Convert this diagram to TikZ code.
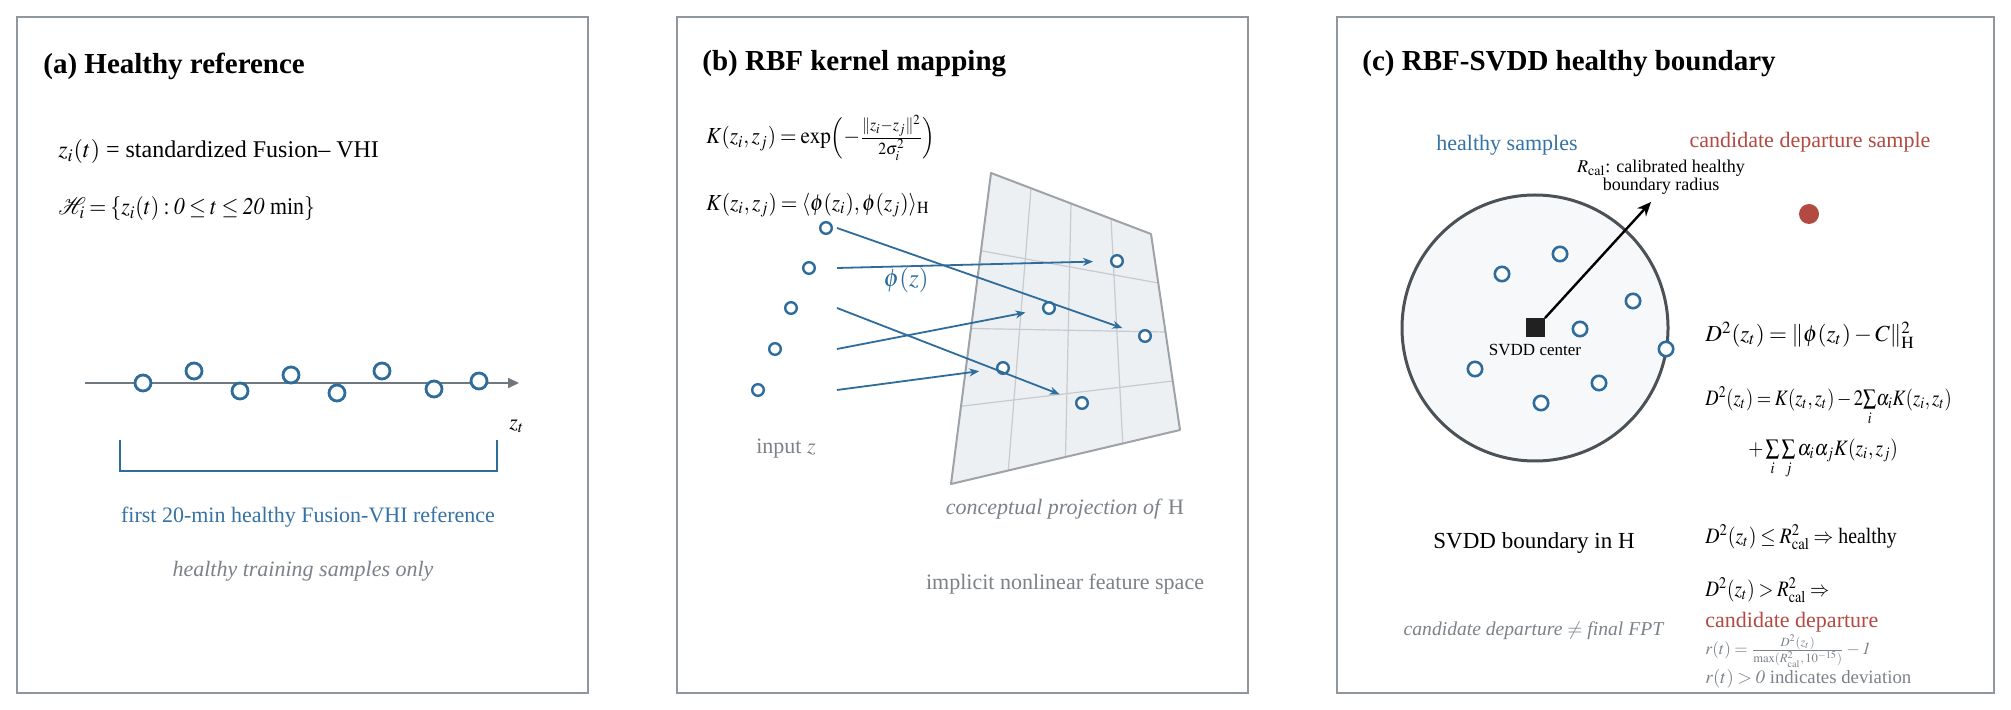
\documentclass[tikz,border=0pt]{standalone}
\usepackage{graphicx}
\usepackage{mathptmx}
\usepackage{fontspec}
\setmainfont{Liberation Serif}
\usetikzlibrary{arrows.meta,calc}
\definecolor{framec}{HTML}{8F979D}
\definecolor{blueC}{HTML}{2E6C9C}
\definecolor{blueT}{HTML}{3572A5}
\definecolor{grayT}{HTML}{7B8289}
\definecolor{redC}{HTML}{B34A41}
\definecolor{axisC}{HTML}{70777E}
\definecolor{surfF}{HTML}{EDF0F3}
\definecolor{surfD}{HTML}{9CA3A9}
\definecolor{gridC}{HTML}{C6CBCF}
\definecolor{bndF}{HTML}{F7F8F9}
\definecolor{bndD}{HTML}{4A5157}
\thinmuskip=2mu
\medmuskip=2.5mu plus 1mu minus 1mu
\thickmuskip=3.5mu plus 2mu
\newcommand{\sqz}[2]{\scalebox{#1}[1]{#2}}
\tikzset{
  frame/.style={draw=framec, line width=1.2pt},
  ttl/.style={anchor=west, font=\fontsize{14.5}{17}\selectfont\bfseries, inner sep=0pt},
  txt/.style={font=\fontsize{11}{13}\selectfont, inner sep=0pt},
  eq/.style={anchor=west, font=\fontsize{12}{14}\selectfont, inner sep=0pt},
  eqb/.style={anchor=west, font=\fontsize{11.5}{14}\selectfont, inner sep=0pt},
  eqc/.style={anchor=west, font=\fontsize{11}{13}\selectfont, inner sep=0pt},
  small/.style={font=\fontsize{8.5}{10}\selectfont, inner sep=0pt, align=center},
  hca/.style={circle, draw=blueC, line width=1.4pt, fill=white, minimum size=8pt, inner sep=0pt},
  hcb/.style={circle, draw=blueC, line width=1.2pt, fill=white, minimum size=5.8pt, inner sep=0pt},
  hcc/.style={circle, draw=blueC, line width=1.3pt, fill=white, minimum size=7.2pt, inner sep=0pt},
  axisline/.style={draw=axisC, line width=1pt, -{Triangle[length=5.5pt,width=5pt]}},
  bracketline/.style={draw=blueC, line width=1pt},
  maparrow/.style={draw=blueC, line width=0.9pt, -{Stealth[length=5pt,width=4pt]}, shorten >=12pt},
  gridline/.style={draw=gridC, line width=0.6pt},
  bnd/.style={circle, fill=bndF, draw=bndD, line width=1.5pt, minimum size=133pt, inner sep=0pt},
  ctrsq/.style={rectangle, fill=black!87, minimum size=9.5pt, inner sep=0pt},
  blkarrow/.style={draw=black, line width=1.2pt, -{Stealth[length=7pt,width=6pt]}},
}
\begin{document}
\begin{tikzpicture}[x=0.5pt,y=-0.5pt]
\useasboundingbox (0,0) rectangle (2011,710);
\fill[white] (0,0) rectangle (2011,710);

% frames
\draw[frame] (17,17) rectangle (588,693);
\draw[frame] (677,17) rectangle (1248,693);
\draw[frame] (1337,17) rectangle (1994,693);

% ---------------- panel (a)
\node[ttl] (ta) at (43,66) {(a) Healthy reference};
\node[eq] (fa1) at (58,152) {$z_i(t)$ = standardized Fusion– VHI};
\node[eq] (fa2) at (58,209) {\sqz{0.91}{$\mathcal{H}_i = \{z_i(t) : \mathit{0} \le t \le \mathit{20}$ min$\}$}};
\coordinate (axs) at (85,383);
\coordinate (axe) at (519,383);
\draw[axisline] (axs) -- (axe);
\node[hca] (a1) at (143,383) {};
\node[hca] (a2) at (194,371) {};
\node[hca] (a3) at (240,391) {};
\node[hca] (a4) at (291,375) {};
\node[hca] (a5) at (337,393) {};
\node[hca] (a6) at (382,371) {};
\node[hca] (a7) at (434,389) {};
\node[hca] (a8) at (479,381) {};
\node[eqc] (zt) at (509,426) {$z_t$};
\coordinate (br1) at (120,440);
\coordinate (br2) at (120,471);
\coordinate (br3) at (497,471);
\coordinate (br4) at (497,440);
\draw[bracketline] (br1) -- (br2) -- (br3) -- (br4);
\node[txt, text=blueT] (ra) at (308,517) {first 20-min healthy Fusion-VHI reference};
\node[txt, text=grayT, font=\fontsize{11}{13}\selectfont\itshape] (rb) at (303,571) {healthy training samples only};

% ---------------- panel (b)
\node[ttl] (tb) at (702,64) {(b) RBF kernel mapping};
\node[eqb] (fb1) at (706,138) {\sqz{0.92}{$K(z_i, z_j) = \exp\!\left(-\frac{\|z_i - z_j\|^2}{2\sigma_i^2}\right)$}};
\node[eqb] (fb2) at (706,205) {\sqz{0.93}{$K(z_i, z_j) = \langle \phi(z_i), \phi(z_j) \rangle_{\mathrm{H}}$}};
% surface
\coordinate (q1) at (991,173);
\coordinate (q2) at (1151,234);
\coordinate (q3) at (1180,430);
\coordinate (q4) at (951,484);
\fill[surfF] (q1) -- (q2) -- (q3) -- (q4) -- cycle;
\foreach \t in {0.25,0.5,0.75}{
  \draw[gridline] ($(q1)!\t!(q2)$) -- ($(q4)!\t!(q3)$);
  \draw[gridline] ($(q1)!\t!(q4)$) -- ($(q2)!\t!(q3)$);
}
\draw[surfD, line width=1pt, line join=round] (q1) -- (q2) -- (q3) -- (q4) -- cycle;
% input points
\node[hcb] (i1) at (826,228) {};
\node[hcb] (i2) at (809,268) {};
\node[hcb] (i3) at (791,308) {};
\node[hcb] (i4) at (775,349) {};
\node[hcb] (i5) at (758,390) {};
% mapped points
\node[hcb] (m1) at (1145,336) {};
\node[hcb] (m2) at (1117,261) {};
\node[hcb] (m3) at (1082,403) {};
\node[hcb] (m4) at (1049,308) {};
\node[hcb] (m5) at (1003,368) {};
\coordinate (s1) at (837,228);
\coordinate (s2) at (837,268);
\coordinate (s3) at (837,308);
\coordinate (s4) at (837,349);
\coordinate (s5) at (837,390);
\draw[maparrow] (s1) -- (m1.center);
\draw[maparrow] (s2) -- (m2.center);
\draw[maparrow] (s3) -- (m3.center);
\draw[maparrow] (s4) -- (m4.center);
\draw[maparrow] (s5) -- (m5.center);
\node[txt, text=blueC, font=\fontsize{12.5}{14}\selectfont] (phil) at (906,280) {$\phi(z)$};
\node[txt, text=grayT] (inz) at (786,449) {input $z$};
\node[txt, text=grayT] (cp) at (1065,509) {\textit{conceptual projection of} H};
\node[txt, text=grayT] (ifs) at (1065,584) {implicit nonlinear feature space};

% ---------------- panel (c)
\node[ttl] (tc) at (1362,64) {(c) RBF-SVDD healthy boundary};
\node[txt, text=blueT] (hs) at (1507,145) {healthy samples};
\node[txt, text=redC] (cds) at (1810,142) {candidate departure sample};
\node[bnd] (bd) at (1535,328) {};
\node[ctrsq] (ctr) at (1535,328) {};
\node[small] (ctrl) at (1535,350) {SVDD center};
\coordinate (rtip) at (1651,202);
\draw[blkarrow] (ctr.north east) -- (rtip);
\node[small, font=\fontsize{9}{10}\selectfont] (rl) at (1661,177) {$R_{\mathrm{cal}}$: calibrated healthy\\[-1pt] boundary radius};
\node[hcc] (c1) at (1560,254) {};
\node[hcc] (c2) at (1502,274) {};
\node[hcc] (c3) at (1633,301) {};
\node[hcc] (c4) at (1580,329) {};
\node[hcc] (c5) at (1666,349) {};
\node[hcc] (c6) at (1475,369) {};
\node[hcc] (c7) at (1599,383) {};
\node[hcc] (c8) at (1541,403) {};
\node[circle, fill=redC, minimum size=10pt, inner sep=0pt] (rd) at (1809,214) {};
\node[eqc, font=\fontsize{11.5}{13}\selectfont] (d1) at (1705,335) {$D^2(z_t) = \|\phi(z_t) - C\|^2_{\mathrm{H}}$};
\node[eqc, font=\fontsize{11}{13}\selectfont] (d2) at (1705,406) {\sqz{0.84}{$D^2(z_t) = K(z_t, z_t) - 2{\sum\limits_i} \alpha_i K(z_i, z_t)$}};
\node[eqc, font=\fontsize{11}{13}\selectfont] (d3) at (1748,459) {\sqz{0.88}{$+\sum\limits_i\sum\limits_j \alpha_i\alpha_j K(z_i, z_j)$}};
\node[txt, font=\fontsize{11.5}{13}\selectfont] (sb) at (1534,543) {SVDD boundary in H};
\node[eqc] (h1) at (1705,537) {\sqz{0.9}{$D^2(z_t) \le R^2_{\mathrm{cal}} \Rightarrow$ healthy}};
\node[eqc] (h2) at (1705,590) {\sqz{0.87}{$D^2(z_t) > R^2_{\mathrm{cal}} \Rightarrow$}};
\node[eqc, text=redC] (h3) at (1705,622) {candidate departure};
\node[txt, text=grayT, font=\fontsize{9.8}{12}\selectfont] (neq) at (1534,631) {\textit{candidate departure} $\neq$ \textit{final FPT}};
\node[eqc, text=grayT, font=\fontsize{8.5}{10}\selectfont] (rt) at (1705,651) {$r(t) = \frac{D^2(z_t)}{\max(R^2_{\mathrm{cal}},\, 10^{-15})} - \mathit{1}$};
\node[eqc, text=grayT, font=\fontsize{9.4}{11}\selectfont] (rt2) at (1705,679) {$r(t) > \mathit{0}$ indicates deviation};
\end{tikzpicture}
\end{document}
